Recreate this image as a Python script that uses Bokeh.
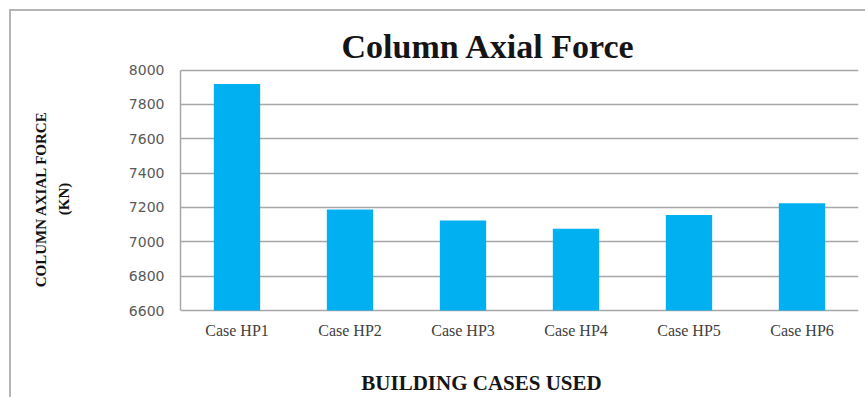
from bokeh.plotting import figure
from bokeh.models import FixedTicker, Range1d, Title, Label
from bokeh.core.properties import value
from bokeh.embed import file_html
from bokeh.resources import INLINE

# Column axial force for each building case (kN)
cases = ["Case HP1", "Case HP2", "Case HP3", "Case HP4", "Case HP5", "Case HP6"]
axial_force = [7918, 7188, 7124, 7076, 7156, 7224]
y_ticks = [6600, 6800, 7000, 7200, 7400, 7600, 7800, 8000]

BAR_COLOR = "#00B0F0"
GRID_COLOR = "#a6a6a6"
FRAME_COLOR = "#b4b4b4"
SERIF = "Liberation Serif"

# page geometry (pixels)
W, H = 865, 397
PLOT_LEFT, PLOT_RIGHT = 180, 858
VALUE_TOP_PX, VALUE_BOTTOM_PX = 69.5, 310.0   # rows of the top and bottom ticks

# the frame fills the whole height so the titles can sit inside it;
# the value scale is fixed by where the first and last ticks fall
per_px = (y_ticks[-1] - y_ticks[0]) / (VALUE_BOTTOM_PX - VALUE_TOP_PX)
y_start = y_ticks[0] - (H - VALUE_BOTTOM_PX) * per_px
y_end = y_ticks[-1] + VALUE_TOP_PX * per_px


def y_at(py):
    """value on the y scale for a pixel row of the page"""
    return y_end - py * per_px


def x_at(px):
    """synthetic category coordinate for a pixel column of the page"""
    return (px - PLOT_LEFT) / (PLOT_RIGHT - PLOT_LEFT) * len(cases)


p = figure(
    width=W, height=H,
    x_range=cases, y_range=Range1d(y_start, y_end),
    output_backend="svg", toolbar_location=None,
    min_border_left=PLOT_LEFT, min_border_right=W - PLOT_RIGHT,
    min_border_top=0, min_border_bottom=0,
)
p.background_fill_alpha = 0
p.border_fill_alpha = 0
p.outline_line_color = None
p.title.visible = False

# thin chart border along the left and top edges, painted behind the canvas
p.styles = {
    "background-color": "white",
    "background-image": f"linear-gradient({FRAME_COLOR}, {FRAME_COLOR}), "
                        f"linear-gradient({FRAME_COLOR}, {FRAME_COLOR})",
    "background-size": "2px 420px, 900px 2px",
    "background-position": "9px 9px, 9px 9px",
    "background-repeat": "no-repeat",
}

p.vbar(x=cases, top=axial_force, bottom=y_ticks[0], width=0.41,
       fill_color=BAR_COLOR, line_color=None)

# y axis with its unit line; the quantity name sits outside it
p.yaxis.ticker = FixedTicker(ticks=y_ticks)
p.yaxis.bounds = (y_ticks[0], y_ticks[-1])
p.yaxis.major_label_text_font = "DejaVu Sans"
p.yaxis.major_label_text_font_size = "14px"
p.yaxis.major_label_text_color = "#595959"
p.yaxis.major_label_standoff = 16
p.yaxis.axis_line_color = GRID_COLOR
p.yaxis.axis_line_width = 1.5
p.yaxis.major_tick_out = 0
p.yaxis.major_tick_in = 0
p.yaxis.minor_tick_line_color = None
p.yaxis.axis_label = "(KN)"
p.yaxis.axis_label_text_font = SERIF
p.yaxis.axis_label_text_font_size = "15px"
p.yaxis.axis_label_text_font_style = "bold"
p.yaxis.axis_label_text_color = "#111111"
p.yaxis.axis_label_standoff = 54
p.add_layout(Title(text="COLUMN AXIAL FORCE", text_font=SERIF,
                   text_font_size="15px", text_font_style="bold",
                   text_color="#111111", align="center", standoff=8), "left")

# category axis: baseline is the lowest grid line, names written under each bar
p.xaxis.visible = False
p.xgrid.grid_line_color = None
p.ygrid.grid_line_color = GRID_COLOR
p.ygrid.grid_line_width = 1.5
p.text(x=cases, y=[y_ticks[0]] * len(cases), text=cases,
       y_offset=20, text_align="center", text_baseline="middle",
       text_font=value(SERIF), text_font_size="16px", text_color="#404040")

# titles
p.add_layout(Label(x=x_at(488), y=y_at(46), text="Column Axial Force",
                   text_font=SERIF, text_font_size="34px",
                   text_font_style="bold", text_color="#151515",
                   text_align="center", text_baseline="middle"))
p.add_layout(Label(x=x_at(481), y=y_at(382), text="BUILDING CASES USED",
                   text_font=SERIF, text_font_size="21px",
                   text_font_style="bold", text_color="#151515",
                   text_align="center", text_baseline="middle"))

open("out.html", "w").write(file_html(p, INLINE))
